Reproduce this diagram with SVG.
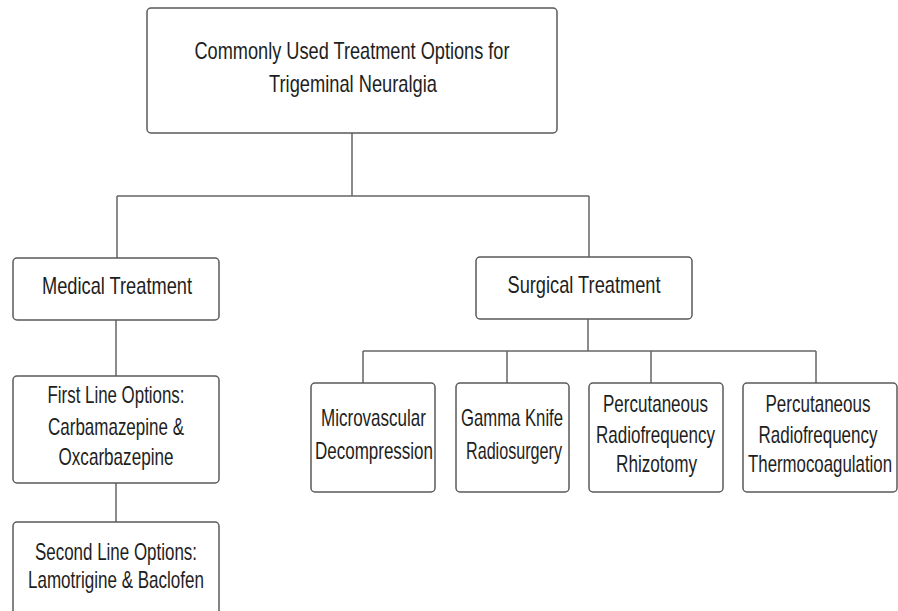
<svg xmlns="http://www.w3.org/2000/svg" width="898" height="611" viewBox="0 0 898 611">
<style>
.box{fill:#fff;stroke:#5a5a5a;stroke-width:1.5}
.t{font-family:"Liberation Sans Narrow","Liberation Sans",Arial,sans-serif;font-size:24px;fill:#1e1e1e;text-anchor:middle}
.c{fill:none;stroke:#666;stroke-width:1.5}
</style>
<rect width="898" height="611" fill="#fff"/>
<g id="connectors">
<path class="c" d="M352 132V196M117 196H589M117 196V258M589 196V257"/>
<path class="c" d="M116 320V376M116 483V522"/>
<path class="c" d="M588 319V351M363 351H816M363 351V383M507 351V383M651 351V383M816 351V383"/>
</g>
<g id="root">
<rect class="box" x="147" y="8" width="410" height="125" rx="4"/>
<text class="t" x="352" y="59" textLength="315" lengthAdjust="spacingAndGlyphs">Commonly Used Treatment Options for</text>
<text class="t" x="353" y="92" textLength="168" lengthAdjust="spacingAndGlyphs">Trigeminal Neuralgia</text>
</g>
<g id="medical">
<rect class="box" x="13" y="258" width="206" height="62" rx="4"/>
<text class="t" x="117" y="294" textLength="150" lengthAdjust="spacingAndGlyphs">Medical Treatment</text>
</g>
<g id="surgical">
<rect class="box" x="476" y="257" width="216" height="62" rx="4"/>
<text class="t" x="584" y="293" textLength="153" lengthAdjust="spacingAndGlyphs">Surgical Treatment</text>
</g>
<g id="firstline">
<rect class="box" x="13" y="376" width="206" height="107" rx="4"/>
<text class="t" x="116" y="403" textLength="137" lengthAdjust="spacingAndGlyphs">First Line Options:</text>
<text class="t" x="116" y="435" textLength="136" lengthAdjust="spacingAndGlyphs">Carbamazepine &amp;</text>
<text class="t" x="116" y="465" textLength="115" lengthAdjust="spacingAndGlyphs">Oxcarbazepine</text>
</g>
<g id="secondline">
<rect class="box" x="13" y="522" width="206" height="120" rx="4"/>
<text class="t" x="116" y="560" textLength="162" lengthAdjust="spacingAndGlyphs">Second Line Options:</text>
<text class="t" x="116" y="588" textLength="176" lengthAdjust="spacingAndGlyphs">Lamotrigine &amp; Baclofen</text>
</g>
<g id="microvascular">
<rect class="box" x="311" y="383" width="124" height="109" rx="4"/>
<text class="t" x="373.5" y="426" textLength="105" lengthAdjust="spacingAndGlyphs">Microvascular</text>
<text class="t" x="374" y="459" textLength="118" lengthAdjust="spacingAndGlyphs">Decompression</text>
</g>
<g id="gamma">
<rect class="box" x="456" y="383" width="113" height="109" rx="4"/>
<text class="t" x="512" y="426" textLength="102" lengthAdjust="spacingAndGlyphs">Gamma Knife</text>
<text class="t" x="514" y="459" textLength="96" lengthAdjust="spacingAndGlyphs">Radiosurgery</text>
</g>
<g id="rhizotomy">
<rect class="box" x="589" y="383" width="134" height="109" rx="4"/>
<text class="t" x="655.5" y="412" textLength="105" lengthAdjust="spacingAndGlyphs">Percutaneous</text>
<text class="t" x="655.5" y="443" textLength="119" lengthAdjust="spacingAndGlyphs">Radiofrequency</text>
<text class="t" x="656.5" y="472" textLength="81" lengthAdjust="spacingAndGlyphs">Rhizotomy</text>
</g>
<g id="thermo">
<rect class="box" x="743" y="383" width="154" height="109" rx="4"/>
<text class="t" x="818" y="412" textLength="105" lengthAdjust="spacingAndGlyphs">Percutaneous</text>
<text class="t" x="818" y="443" textLength="119" lengthAdjust="spacingAndGlyphs">Radiofrequency</text>
<text class="t" x="820" y="472" textLength="144" lengthAdjust="spacingAndGlyphs">Thermocoagulation</text>
</g>
</svg>
